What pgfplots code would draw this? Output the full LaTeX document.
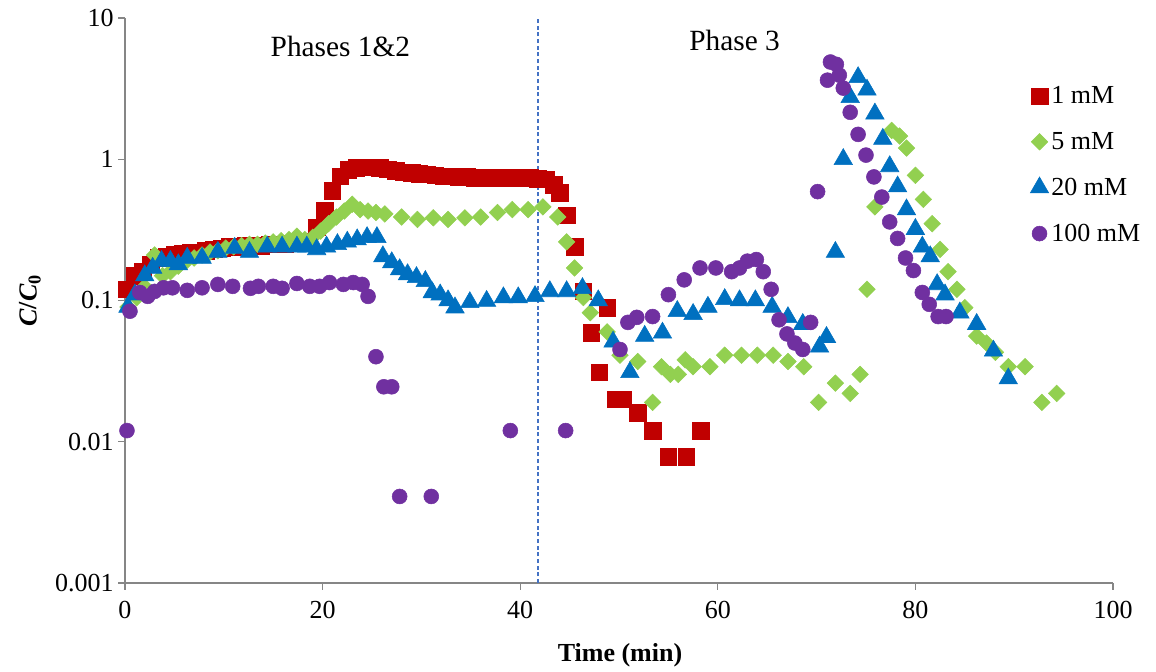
\documentclass[border=0pt]{standalone}
\usepackage{pgfplots}
\pgfplotsset{compat=1.18}
\usepackage{fontspec}
\setmainfont{Liberation Serif}
\definecolor{cred}{RGB}{192,0,0}
\definecolor{cgreen}{RGB}{146,208,80}
\definecolor{cblue}{RGB}{0,112,192}
\definecolor{cpurple}{RGB}{112,48,160}
\definecolor{cdash}{RGB}{68,114,196}
\definecolor{caxis}{RGB}{134,134,134}
\begin{document}
\begin{tikzpicture}
\useasboundingbox (-93.75pt,-66pt) rectangle (773.25pt,437.25pt);
\begin{axis}[
  at={(0,0)}, anchor=south west,
  scale only axis, width=741pt, height=423.75pt,
  ymode=log, ymin=0.001, ymax=10, xmin=0, xmax=100,
  clip=false,
  axis x line*=bottom, axis y line*=left,
  axis line style={caxis, line width=1pt},
  tick style={caxis, line width=1pt},
  major tick length=5pt, tick align=outside,
  minor tick num=0, yminorticks=false,
  xtick={0,20,40,60,80,100}, xticklabels={0,20,40,60,80,100},
  ytick={0.001,0.01,0.1,1,10}, yticklabels={0.001,0.01,0.1,1,10},
  ticklabel style={font=\fontsize{19.5}{23}\selectfont, text=black},
  xticklabel style={yshift=-5pt},
  xlabel={\textbf{Time (min)}},
  ylabel={\textbf{\textit{C}/\textit{C}\textsubscript{0}}},
  label style={font=\fontsize{19.5}{23}\selectfont},
  xlabel style={at={(axis description cs:0.501,-0.127)}, anchor=center},
  ylabel style={at={(axis description cs:-0.096,0.5)}, anchor=center},
  legend style={at={(0.916,0.884)}, anchor=north west, draw=none, fill=none,
    font=\fontsize{19.5}{23}\selectfont, row sep=16pt, inner sep=0pt},
  legend cell align=left,
  legend image code/.code={\draw[#1] plot coordinates {(0pt,0pt)};},
]
\addplot[only marks, mark=square*, mark size=6.2pt, color=cred] coordinates {
(0.2,0.12) (1.0,0.15) (1.8,0.16) (2.6,0.18) (3.4,0.2) (4.2,0.205) (5.0,0.21) (5.8,0.215) (6.6,0.22) (7.4,0.22) (8.2,0.225) (9.0,0.23) (9.8,0.235) (10.6,0.24) (11.4,0.24) (12.2,0.245) (13.0,0.245) (13.8,0.245) (14.6,0.25) (15.4,0.25) (16.2,0.25) (17.0,0.255) (17.8,0.255) (18.6,0.26) (19.4,0.33) (20.2,0.43) (21.0,0.6) (21.8,0.76) (22.6,0.84) (23.4,0.87) (24.2,0.88) (25.0,0.88) (25.8,0.87) (26.6,0.85) (27.4,0.83) (28.2,0.81) (29.0,0.8) (29.8,0.79) (30.6,0.78) (31.4,0.77) (32.2,0.76) (33.0,0.76) (33.8,0.75) (34.6,0.75) (35.4,0.74) (36.2,0.74) (37.0,0.74) (37.8,0.74) (38.6,0.74) (39.4,0.74) (40.2,0.74) (41.0,0.74) (41.8,0.73) (42.6,0.72) (43.4,0.66) (44.0,0.58) (44.7,0.4) (45.5,0.24) (46.4,0.116) (47.2,0.059) (48.0,0.031) (48.8,0.089) (49.6,0.02) (50.4,0.02) (51.9,0.016) (53.4,0.012) (55.0,0.0078) (56.8,0.0078) (58.3,0.012)
};
\addlegendentry{1 mM}
\addplot[only marks, mark=square*, mark size=4.4pt, mark options={rotate=45}, color=cgreen] coordinates {
(0.3,0.09) (1.2,0.105) (2.0,0.125) (3.0,0.21) (3.8,0.15) (4.6,0.16) (5.4,0.175) (6.2,0.19) (7.0,0.2) (7.8,0.21) (8.6,0.22) (9.4,0.225) (10.2,0.235) (11.0,0.24) (11.8,0.245) (12.6,0.25) (13.4,0.25) (14.2,0.255) (15.0,0.26) (15.8,0.265) (16.6,0.27) (17.4,0.285) (18.2,0.27) (19.0,0.28) (19.8,0.31) (20.6,0.35) (21.4,0.39) (22.2,0.43) (23.0,0.48) (23.8,0.44) (24.6,0.43) (25.4,0.42) (26.3,0.41) (28.0,0.39) (29.6,0.375) (31.2,0.385) (32.7,0.375) (34.4,0.385) (36.0,0.39) (37.7,0.42) (39.2,0.44) (40.8,0.44) (42.3,0.46) (43.8,0.39) (44.7,0.26) (45.5,0.17) (46.4,0.105) (47.1,0.082) (48.8,0.06) (50.1,0.041) (51.9,0.037) (53.4,0.019) (54.3,0.034) (55.2,0.03) (56.0,0.03) (56.7,0.038) (57.5,0.034) (59.2,0.034) (60.7,0.041) (62.4,0.041) (64.0,0.041) (65.6,0.041) (67.1,0.037) (68.7,0.034) (70.2,0.019) (71.9,0.026) (73.4,0.022) (74.4,0.03) (75.1,0.12) (75.9,0.46) (77.6,1.6) (78.4,1.46) (79.1,1.2) (80.0,0.77) (80.8,0.52) (81.7,0.35) (82.5,0.23) (83.3,0.16) (84.2,0.12) (85.0,0.089) (86.2,0.056) (87.2,0.05) (88.1,0.043) (89.4,0.034) (91.1,0.034) (92.8,0.019) (94.3,0.022)
};
\addlegendentry{5 mM}
\addplot[only marks, mark=triangle*, mark size=8pt, color=cblue] coordinates {
(0.3,0.09) (1.0,0.11) (2.0,0.15) (2.8,0.17) (3.7,0.19) (4.6,0.19) (5.4,0.18) (6.3,0.2) (7.8,0.2) (9.4,0.22) (11.1,0.235) (12.6,0.22) (14.4,0.24) (15.9,0.24) (17.4,0.24) (18.4,0.24) (19.4,0.23) (20.4,0.24) (21.5,0.25) (22.5,0.26) (23.5,0.27) (24.5,0.28) (25.5,0.28) (26.1,0.205) (27.0,0.186) (27.8,0.166) (28.6,0.153) (29.5,0.146) (30.4,0.137) (31.1,0.114) (31.9,0.11) (32.7,0.1) (33.4,0.089) (34.9,0.097) (36.6,0.099) (38.3,0.105) (39.8,0.105) (41.5,0.107) (43.0,0.116) (44.7,0.116) (46.3,0.122) (47.9,0.1) (49.4,0.051) (51.1,0.031) (52.6,0.056) (54.4,0.059) (55.9,0.084) (57.5,0.08) (59.0,0.09) (60.7,0.102) (62.2,0.1) (63.8,0.1) (65.5,0.09) (67.1,0.076) (68.6,0.068) (70.3,0.047) (71.0,0.055) (71.9,0.22) (72.7,1.0) (73.4,2.75) (74.2,3.8) (75.1,3.1) (75.9,2.1) (76.7,1.39) (77.4,0.89) (78.2,0.64) (79.1,0.44) (80.0,0.32) (80.7,0.24) (81.5,0.205) (82.2,0.13) (83.0,0.11) (84.5,0.082) (86.2,0.068) (87.9,0.044) (89.4,0.028)
};
\addlegendentry{20 mM}
\addplot[only marks, mark=*, mark size=5.6pt, color=cpurple] coordinates {
(0.2,0.012) (0.5,0.084) (1.5,0.114) (2.3,0.107) (3.0,0.116) (3.9,0.123) (4.8,0.123) (6.3,0.118) (7.8,0.123) (9.4,0.13) (10.9,0.126) (12.7,0.122) (13.5,0.126) (15.0,0.126) (15.9,0.122) (17.4,0.132) (18.7,0.126) (19.7,0.126) (20.7,0.134) (22.1,0.13) (23.1,0.134) (24.0,0.13) (24.6,0.107) (25.4,0.04) (26.2,0.0245) (27.0,0.0245) (27.8,0.0041) (31.0,0.0041) (39.0,0.012) (44.6,0.012) (50.1,0.045) (50.9,0.07) (51.8,0.076) (53.4,0.077) (55.0,0.11) (56.6,0.14) (58.2,0.17) (59.8,0.17) (61.4,0.16) (62.2,0.17) (63.0,0.19) (63.9,0.195) (64.6,0.16) (65.4,0.12) (66.2,0.073) (67.0,0.058) (67.8,0.05) (68.6,0.045) (69.4,0.07) (70.1,0.59) (71.1,3.63) (71.4,4.88) (72.0,4.7) (72.3,3.94) (72.7,3.19) (73.4,2.15) (74.2,1.5) (75.0,1.07) (75.8,0.75) (76.6,0.54) (77.4,0.36) (78.2,0.275) (79.0,0.2) (79.8,0.163) (80.7,0.114) (81.4,0.094) (82.3,0.077) (83.1,0.077)
};
\addlegendentry{100 mM}
\addplot[forget plot, color=cdash, line width=1pt, dash pattern=on 3pt off 2pt] coordinates {(41.8,0.001) (41.8,10)};
\node[font=\fontsize{22}{26}\selectfont] at (axis cs:21.8,6.3) {Phases 1\&2};
\node[font=\fontsize{22}{26}\selectfont] at (axis cs:61.7,6.9) {Phase 3};
\end{axis}
\end{tikzpicture}
\end{document}
